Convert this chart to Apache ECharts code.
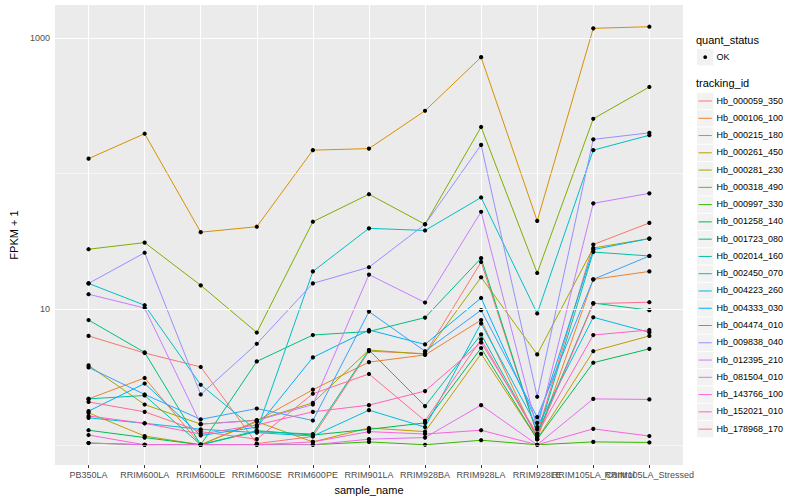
<!DOCTYPE html>
<html>
<head>
<meta charset="utf-8">
<script src="https://cdn.jsdelivr.net/npm/echarts@6/dist/echarts.min.js"></script>
<style>html,body{margin:0;padding:0;background:#fff}#c{width:800px;height:500px}</style>
</head>
<body>
<div id="c"></div>
<script>
const categories = ['PB350LA','RRIM600LA','RRIM600LE','RRIM600SE','RRIM600PE','RRIM901LA','RRIM928BA','RRIM928LA','RRIM928LE','RRIM105LA_Control','RRIM105LA_Stressed'];
const yTickValues = [10, 1000];
const yMajorGrid = [10, 1000];
const yMinorGrid = [1, 100];

const trackingIds = ['Hb_000059_350','Hb_000106_100','Hb_000215_180','Hb_000261_450','Hb_000281_230','Hb_000318_490','Hb_000997_330','Hb_001258_140','Hb_001723_080','Hb_002014_160','Hb_002450_070','Hb_004223_260','Hb_004333_030','Hb_004474_010','Hb_009838_040','Hb_012395_210','Hb_081504_010','Hb_143766_100','Hb_152021_010','Hb_178968_170'];
const colors = ['#F8766D','#EA8331','#D89000','#C09B00','#A3A500','#7CAE00','#39B600','#00BB4E','#00BF7D','#00C1A3','#00BFC4','#00BAE0','#00B0F6','#35A2FF','#9590FF','#C77CFF','#E76BF3','#FA62DB','#FF62BC','#FF6C91'];

const Hb_000059_350 = [6.35, 4.75, 3.75, 1.02, 1.15, 4.9, 4.7, 22.3, 1.2, 30, 43.3];
const Hb_000106_100 = [2.18, 3.11, 1.0, 1.5, 2.55, 4.07, 4.6, 8.32, 1.1, 16.6, 19.0];
const Hb_000215_180 = [129, 197, 37, 40.6, 149, 153, 291, 723, 44.8, 1180, 1213];
const Hb_000261_450 = [1.72, 1.16, 1.0, 1.48, 1.05, 1.33, 1.25, 4.69, 1.1, 4.9, 6.35];
const Hb_000281_230 = [3.85, 1.98, 1.42, 1.52, 2.04, 5.0, 4.66, 17.2, 4.64, 28.3, 33.2];
const Hb_000318_490 = [27.7, 31, 15.0, 6.73, 44.2, 70.5, 42.3, 221, 18.5, 254, 436];
const Hb_000997_330 = [1.03, 1.0, 1.0, 1.0, 1.0, 1.05, 1.0, 1.08, 1.0, 1.05, 1.04];
const Hb_001258_140 = [1.28, 1.13, 1.0, 1.27, 1.18, 1.3, 1.45, 5.17, 1.1, 4.03, 5.10];
const Hb_001723_080 = [8.32, 4.8, 1.0, 4.12, 6.45, 6.85, 8.67, 23.8, 1.2, 11.1, 9.84];
const Hb_002014_160 = [2.18, 2.31, 1.0, 1.25, 1.2, 5.0, 1.93, 6.52, 1.15, 26.4, 24.7];
const Hb_002450_070 = [15.5, 10.7, 2.77, 1.27, 19.0, 39.5, 38.1, 66.7, 9.3, 149, 192];
const Hb_004223_260 = [1.58, 1.44, 1.3, 1.23, 1.16, 1.80, 1.35, 7.86, 1.35, 8.72, 6.75];
const Hb_004333_030 = [1.77, 2.83, 1.17, 1.35, 4.41, 7.03, 5.5, 12.1, 1.45, 27.5, 33.2];
const Hb_004474_010 = [3.72, 2.35, 1.54, 1.85, 1.51, 9.6, 4.9, 9.84, 1.6, 16.6, 24.7];
const Hb_009838_040 = [15.5, 26.1, 2.35, 5.56, 15.5, 20.4, 42.3, 163, 2.26, 179, 200];
const Hb_012395_210 = [12.9, 10.2, 1.42, 1.51, 1.98, 18.0, 11.2, 52.3, 1.3, 60.4, 71.6];
const Hb_081504_010 = [1.03, 1.0, 1.0, 1.0, 1.0, 1.1, 1.13, 1.96, 1.0, 2.18, 2.16];
const Hb_143766_100 = [1.18, 1.0, 1.0, 1.0, 1.05, 1.25, 1.2, 1.28, 1.0, 1.31, 1.16];
const Hb_152021_010 = [1.63, 1.44, 1.2, 1.4, 1.75, 1.96, 2.49, 5.68, 1.2, 6.45, 7.03];
const Hb_178968_170 = [2.07, 1.75, 1.25, 1.1, 2.38, 3.33, 1.5, 6.0, 1.15, 11.0, 11.26];

const seriesValues = [Hb_000059_350, Hb_000106_100, Hb_000215_180, Hb_000261_450, Hb_000281_230, Hb_000318_490, Hb_000997_330, Hb_001258_140, Hb_001723_080, Hb_002014_160, Hb_002450_070, Hb_004223_260, Hb_004333_030, Hb_004474_010, Hb_009838_040, Hb_012395_210, Hb_081504_010, Hb_143766_100, Hb_152021_010, Hb_178968_170];

const FONT = 'Liberation Sans, Arial, Helvetica, sans-serif';
const chart = echarts.init(document.getElementById('c'), null, {renderer: 'svg'});

const idx = categories.map((_, i) => i);
// labels split over two overlapping axes so that overlapping neighbours are both kept (as in the reference)
const idxA = idx.filter(i => i % 2 === 0);
const idxB = idx.filter(i => i % 2 === 1);
const series = [];
const white = (w) => ({color: '#FFFFFF', width: w, type: 'solid', opacity: 1});
series.push({
  type: 'line', data: [], z: 1, silent: true,
  markLine: {
    silent: true, symbol: 'none', label: {show: false}, animation: false,
    lineStyle: white(1.1),
    emphasis: {disabled: true},
    data: [
      ...yMinorGrid.map(v => ({yAxis: v, lineStyle: white(0.55)})),
      ...yMajorGrid.map(v => ({yAxis: v, lineStyle: white(1.1)}))
    ]
  }
});
seriesValues.forEach((vals, s) => {
  series.push({
    name: trackingIds[s], type: 'line', z: 2,
    data: vals.map((v, i) => [i, v]),
    showSymbol: false, symbol: 'none',
    lineStyle: {color: colors[s], width: 1},
    itemStyle: {color: colors[s]},
    animation: false
  });
});
const pts = [];
seriesValues.forEach(vals => vals.forEach((v, i) => pts.push([i, v])));
series.push({
  name: 'OK', type: 'scatter', z: 3, data: pts, symbol: 'circle', symbolSize: 4.2,
  itemStyle: {color: '#000000', opacity: 1, borderWidth: 0}, animation: false
});

const graphics = [];
graphics.push({type: 'text', left: 696, top: 34, style: {text: 'quant_status', fontSize: 11, fontFamily: FONT, fill: '#000'}});
graphics.push({type: 'rect', shape: {x: 697, y: 49, width: 16.3, height: 16.3}, style: {fill: '#F2F2F2'}});
graphics.push({type: 'circle', shape: {cx: 705.2, cy: 57.2, r: 1.9}, style: {fill: '#000'}});
graphics.push({type: 'text', left: 716.5, top: 52.5, style: {text: 'OK', fontSize: 9, fontFamily: FONT, fill: '#000'}});
graphics.push({type: 'text', left: 696, top: 77.5, style: {text: 'tracking_id', fontSize: 11, fontFamily: FONT, fill: '#000'}});
trackingIds.forEach((name, i) => {
  const cy = 101 + i * 17.27;
  graphics.push({type: 'rect', shape: {x: 697, y: cy - 8.15, width: 16.3, height: 16.3}, style: {fill: '#F2F2F2'}});
  graphics.push({type: 'line', shape: {x1: 698.5, y1: cy, x2: 711.8, y2: cy}, style: {stroke: colors[i], lineWidth: 1}});
  graphics.push({type: 'text', left: 716.5, top: cy - 5, style: {text: name, fontSize: 9, fontFamily: FONT, fill: '#000'}});
});

const xLabelStyle = (vals) => ({show: true, customValues: vals, fontSize: 9, color: '#4D4D4D', fontFamily: FONT, margin: 5,
  showMinLabel: true, showMaxLabel: true, hideOverlap: false, interval: 0,
  formatter: v => categories[Math.round(v)] || ''});

chart.setOption({
  animation: false,
  backgroundColor: '#FFFFFF',
  grid: {left: 45, right: 117, top: 5, bottom: 32, show: true, backgroundColor: '#EBEBEB', borderWidth: 0, containLabel: false},
  xAxis: [{
    type: 'value', min: -0.6, max: 10.6, position: 'bottom', offset: 0,
    name: 'sample_name', nameLocation: 'middle', nameGap: 15,
    nameTextStyle: {fontSize: 11, color: '#000', fontFamily: FONT},
    axisLine: {show: false},
    axisTick: {show: true, length: 3, lineStyle: {color: '#333333', width: 1}, customValues: idx},
    axisLabel: xLabelStyle(idxA),
    splitLine: {show: true, lineStyle: white(1.1)}
  }, {
    type: 'value', min: -0.6, max: 10.6, position: 'bottom', offset: 0,
    axisLine: {show: false},
    axisTick: {show: false},
    axisLabel: xLabelStyle(idxB),
    splitLine: {show: false}
  }],
  yAxis: {
    type: 'log', logBase: 10, min: 0.708, max: 1754,
    name: 'FPKM + 1', nameLocation: 'middle', nameGap: 28, nameRotate: 90,
    nameTextStyle: {fontSize: 11, color: '#000', fontFamily: FONT},
    axisLine: {show: false},
    axisTick: {show: true, length: 3, lineStyle: {color: '#333333', width: 1}, customValues: yTickValues},
    axisLabel: {show: true, customValues: yTickValues, fontSize: 9, color: '#4D4D4D', fontFamily: FONT, margin: 5,
      formatter: v => String(Math.round(v))},
    splitLine: {show: false},
    minorTick: {show: false}, minorSplitLine: {show: false}
  },
  series: series,
  graphic: graphics
});
</script>
</body>
</html>
